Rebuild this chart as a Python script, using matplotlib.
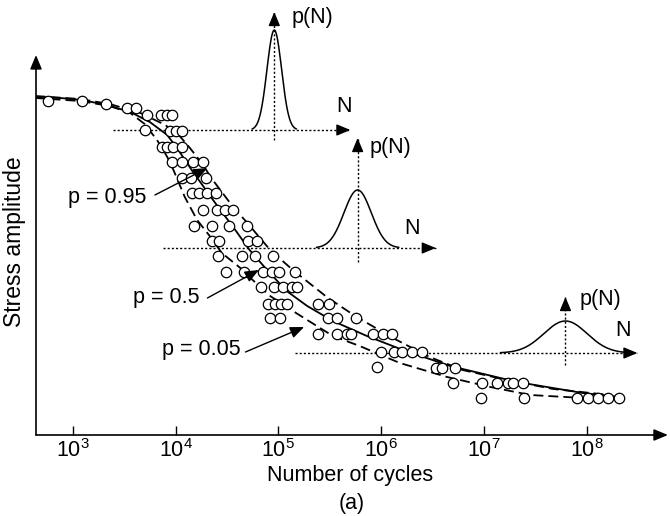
import numpy as np
import matplotlib
matplotlib.use('Agg')
import matplotlib.pyplot as plt
from matplotlib.ticker import NullLocator

plt.rcParams['font.family'] = ['Liberation Sans', 'DejaVu Sans']
plt.rcParams['mathtext.fontset'] = 'custom'
plt.rcParams['mathtext.rm'] = 'Liberation Sans'
plt.rcParams['mathtext.it'] = 'Liberation Sans:italic'
plt.rcParams['mathtext.bf'] = 'Liberation Sans:bold'

# ---------------- data ----------------
tick_exponents = [3, 4, 5, 6, 7, 8]
tick_labels = [r'$10^{%d}$' % e for e in tick_exponents]

# test results (log10 of cycles, stress amplitude in arbitrary units)
test_logN = [2.76, 3.09, 3.32, 3.53, 3.62, 3.72, 3.86, 3.92, 3.97,
             3.70, 3.95, 4.00, 4.06,
             3.87, 3.92, 3.98, 4.06,
             3.97, 4.06, 4.17, 4.27,
             4.06, 4.15, 4.30,
             4.16, 4.23, 4.31, 4.39,
             4.27, 4.40, 4.48, 4.56,
             4.18, 4.35, 4.52, 4.69,
             4.35, 4.42, 4.70, 4.79,
             4.41, 4.65, 4.77, 4.95,
             4.49, 4.67, 4.85, 4.94, 5.01, 5.16,
             4.83, 4.96, 5.04, 5.13, 5.18,
             4.90, 4.97, 5.03, 5.08, 5.38, 5.49,
             4.92, 5.02, 5.48, 5.57, 5.75,
             5.38, 5.57, 5.67, 5.71, 5.92, 6.02, 6.10,
             6.00, 6.12, 6.20, 6.30, 6.40,
             5.96, 6.53, 6.59, 6.72,
             6.70, 6.98, 7.12, 7.23, 7.28, 7.38,
             6.97, 7.39, 7.90, 8.01, 8.11, 8.20, 8.31]
test_stress = [334, 334, 331, 327, 327, 320, 320, 320, 320,
               305, 304, 304, 304,
               288, 288, 288, 288,
               273, 273, 273, 273,
               257, 257, 257,
               242, 242, 242, 242,
               225, 225, 225, 225,
               209, 209, 209, 209,
               194, 194, 194, 194,
               179, 179, 179, 179,
               163, 163, 163, 163, 163, 163,
               148, 148, 148, 148, 148,
               131, 131, 131, 131, 131, 131,
               117, 117, 117, 117, 117,
               101, 101, 101, 101, 101, 101, 101,
               83, 83, 83, 83, 83,
               68, 67, 67, 67,
               52, 52, 52, 52, 52, 52,
               37, 37, 37, 37, 37, 37, 37]

# S-N curves
median_logN = [2.64, 2.88, 3.09, 3.33, 3.56, 3.75, 3.92, 4.04, 4.17, 4.24,
               4.40, 4.56, 4.72, 4.89, 5.08, 5.28, 5.53, 5.86, 6.21, 6.67,
               7.32, 7.96, 8.32]
median_stress = [338, 337, 335, 330, 323, 313, 300, 283, 263, 253,
                 230, 208, 185, 165, 144, 129, 114, 99, 85, 69,
                 53, 42, 38]

p95_logN = [2.64, 3.07, 3.36, 3.66, 3.90, 4.04, 4.14, 4.27, 4.34, 4.56,
            4.69, 4.92, 5.14, 5.47, 5.76, 6.15, 6.47, 6.79, 7.22, 7.67, 8.22]
p95_stress = [339, 336, 331, 322, 310, 299, 287, 270, 258, 228,
              213, 185, 165, 138, 118, 95, 78, 65, 55, 46, 40]

p05_logN = [2.64, 3.07, 3.36, 3.56, 3.70, 3.82, 3.92, 3.98, 4.09, 4.21,
            4.34, 4.45, 4.63, 4.75, 4.92, 5.11, 5.28, 5.53, 5.79, 6.18,
            6.64, 7.06, 7.45, 8.13]
p05_stress = [337, 334, 329, 322, 311, 295, 278, 265, 238, 215,
              198, 182, 167, 155, 139, 126, 115, 99, 89, 72,
              58, 48, 40, 36]

# curve labels
curve_labels = ['p = 0.95', 'p = 0.5', 'p = 0.05']
label_logN = [3.72, 4.23, 4.63]
label_stress = [237, 137, 85]
arrow_tail_logN = [3.80, 4.31, 4.68]
arrow_tail_stress = [240, 137, 83]
arrow_head_logN = [4.31, 4.81, 5.25]
arrow_head_stress = [267, 165, 108]

# life distributions p(N)
dist_mean_logN = [4.96, 5.77, 7.79]
dist_sigma = [0.071, 0.133, 0.21]
dist_peak = [100, 58, 32]
dist_base_stress = [305, 187, 82]
dist_axis_start = [3.39, 3.88, 5.16]
dist_axis_end = [5.70, 6.53, 8.49]
dist_vaxis_bottom = [295, 173, 70]
dist_vaxis_top = [423, 297, 138]
pN_label_logN = [5.13, 5.89, 7.93]
pN_label_stress = [418, 287, 135]
N_label_logN = [5.64, 6.30, 8.35]
N_label_stress = [329, 207, 105]

# ---------------- figure ----------------
W, H = 670, 516
fig = plt.figure(figsize=(W / 100, H / 100), dpi=100)
ax = fig.add_axes([36 / W, 81 / H, 634 / W, 435 / H])
ax.set_xscale('log')
xmin_log, xmax_log = 2.644, 8.806
ax.set_xlim(10 ** xmin_log, 10 ** xmax_log)
ax.set_ylim(0, 435)
for sp in ax.spines.values():
    sp.set_visible(False)
ax.set_yticks([])
ax.set_xticks([10.0 ** e for e in tick_exponents])
ax.set_xticklabels(tick_labels)
ax.xaxis.set_minor_locator(NullLocator())
ax.tick_params(axis='x', direction='in', length=6.5, width=1.0, pad=3,
               labelsize=15.5)
ax.patch.set_alpha(0)

FS = 15.5
head = '-|>,head_length=0.6,head_width=0.25'
arrow_kw = dict(arrowstyle=head, mutation_scale=14, color='black',
                shrinkA=0, shrinkB=0)

# main axes arrows
ax.annotate('', xy=(10 ** xmin_log, 380), xytext=(10 ** xmin_log, 0),
            arrowprops=dict(lw=1.2, **arrow_kw), annotation_clip=False)
ax.annotate('', xy=(10 ** 8.786, 0), xytext=(10 ** xmin_log, 0),
            arrowprops=dict(lw=1.2, **arrow_kw), annotation_clip=False)

dotted = (0, (1.5, 1.5))

# distributions
for i in range(3):
    base = dist_base_stress[i]
    ax.plot([10 ** dist_axis_start[i], 10 ** dist_axis_end[i]], [base, base],
            color='black', lw=1.0, linestyle=dotted, zorder=1)
    ax.annotate('', xy=(10 ** dist_axis_end[i], base), xytext=(-8.4, 0),
                textcoords='offset points',
                arrowprops=dict(lw=1.0, **arrow_kw), annotation_clip=False)
    m = dist_mean_logN[i]
    ax.plot([10 ** m, 10 ** m], [dist_vaxis_bottom[i], dist_vaxis_top[i]],
            color='black', lw=1.0, linestyle=dotted, zorder=1)
    ax.annotate('', xy=(10 ** m, dist_vaxis_top[i]), xytext=(0, -8.4),
                textcoords='offset points',
                arrowprops=dict(lw=1.0, **arrow_kw), annotation_clip=False)
    s = dist_sigma[i]
    lx = np.linspace(m - 3 * s, m + 3 * s, 200)
    ly = base + dist_peak[i] * np.exp(-0.5 * ((lx - m) / s) ** 2)
    ax.plot(10 ** lx, ly, color='black', lw=1.1, zorder=2)
    ax.text(10 ** pN_label_logN[i], pN_label_stress[i], 'p(N)', ha='left',
            va='center', fontsize=FS)
    ax.text(10 ** N_label_logN[i], N_label_stress[i], 'N', ha='center',
            va='center', fontsize=FS)

# S-N curves
ax.plot(10 ** np.array(median_logN), median_stress, color='black', lw=1.3,
        zorder=2)
ax.plot(10 ** np.array(p95_logN), p95_stress, color='black', lw=1.3,
        linestyle=(0, (5.5, 2.8)), zorder=2)
ax.plot(10 ** np.array(p05_logN), p05_stress, color='black', lw=1.3,
        linestyle=(0, (5.5, 2.8)), zorder=2)

# test points
ax.plot(10 ** np.array(test_logN), test_stress, linestyle='none', marker='o',
        ms=7.5, mfc='white', mec='black', mew=0.9, zorder=3)

# curve labels with arrows
for i in range(3):
    ax.text(10 ** label_logN[i], label_stress[i], curve_labels[i], ha='right',
            va='center', fontsize=FS)
    ax.annotate('', xy=(10 ** arrow_head_logN[i], arrow_head_stress[i]),
                xytext=(10 ** arrow_tail_logN[i], arrow_tail_stress[i]),
                arrowprops=dict(lw=1.0, **arrow_kw), zorder=4)

# axis titles
fig.text(350 / W, 1 - 476 / H, 'Number of cycles', ha='center', va='center',
         fontsize=FS)
fig.text(352 / W, 1 - 504 / H, '(a)', ha='center', va='center', fontsize=FS)
fig.text(15 / W, 1 - 242 / H, 'Stress amplitude', ha='center', va='center',
         rotation=90, fontsize=16.5)

fig.savefig('out.png', dpi=100)
